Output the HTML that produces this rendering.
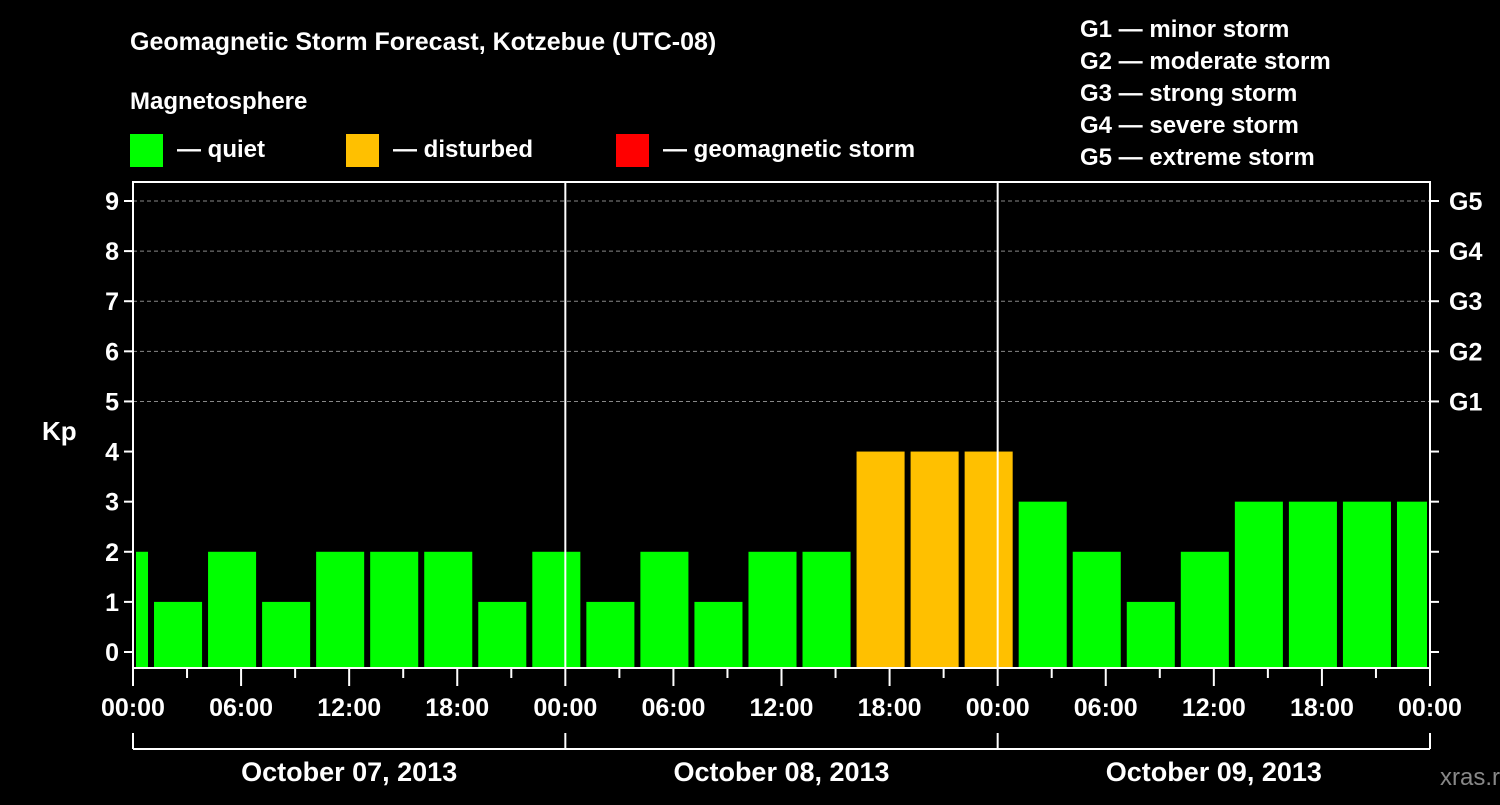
<!DOCTYPE html>
<html><head><meta charset="utf-8"><style>
body{margin:0;background:#000;width:1500px;height:800px;overflow:hidden}
svg{font-family:"Liberation Sans",sans-serif;font-weight:bold}
</style></head><body>
<svg id="c" width="1500" height="800">
<text x="130" y="50" fill="#fff" font-size="25">Geomagnetic Storm Forecast, Kotzebue (UTC-08)</text>
<text x="130" y="109" fill="#fff" font-size="24">Magnetosphere</text>
<g><rect x="130" y="134" width="33" height="33" fill="#00ff00"/><text x="177" y="157" fill="#fff" font-size="24">— quiet</text></g>
<g><rect x="346" y="134" width="33" height="33" fill="#ffc000"/><text x="393" y="157" fill="#fff" font-size="24">— disturbed</text></g>
<g><rect x="616" y="134" width="33" height="33" fill="#ff0000"/><text x="663" y="157" fill="#fff" font-size="24">— geomagnetic storm</text></g>
<g fill="#fff" font-size="24">
<text x="1080" y="37">G1 — minor storm</text><text x="1080" y="69">G2 — moderate storm</text><text x="1080" y="101">G3 — strong storm</text><text x="1080" y="133">G4 — severe storm</text><text x="1080" y="165">G5 — extreme storm</text></g>
<text x="42" y="440" fill="#fff" font-size="26">Kp</text>
<text x="1440" y="785" fill="#888" font-size="24" font-weight="normal">xras.ru</text>
<g id="plot"></g>
</svg>
<script>
const kpValues=[2,1,2,1,2,2,2,1,2,1,2,1,2,2,4,4,4,3,2,1,2,3,3,3,3];
const periodStartHour=-2;
const yTicks=[0,1,2,3,4,5,6,7,8,9];
const gLabels=["G1","G2","G3","G4","G5"];
const xLabels=["00:00","06:00","12:00","18:00","00:00","06:00","12:00","18:00","00:00","06:00","12:00","18:00","00:00"];
const dayLabels=["October 07, 2013","October 08, 2013","October 09, 2013"];
const L=133,R=1430,T=182,B=668,Y0=652,Y9=201,HOURS=72;
const x=h=>L+(R-L)*h/HOURS;
const y=v=>Y0+(Y9-Y0)*v/9;
const NS="http://www.w3.org/2000/svg";
const P=document.getElementById('plot');
function mk(t,a,p){const e=document.createElementNS(NS,t);for(const k in a)e.setAttribute(k,a[k]);(p||P).appendChild(e);return e;}
// grid
for(let v=5;v<=9;v++){const e=mk('line',{x1:L,x2:R,y1:y(v),y2:y(v),stroke:'#888','stroke-dasharray':'4,3'});

}
// bars
kpValues.forEach((v,i)=>{
 const h0=periodStartHour+3*i,h1=h0+3;
 let x0=Math.max(x(h0)+3,L+3),x1=Math.min(x(h1)-3,R-3);
 const col=v>=5?'#ff0000':v>=4?'#ffc000':'#00ff00';
 const r=mk('rect',{x:x0,y:y(v),width:x1-x0,height:B-y(v),fill:col});
 
 
});
// day dividers
[24,48].forEach(h=>{const e=mk('line',{x1:x(h),x2:x(h),y1:T,y2:B,stroke:'#fff','stroke-width':2});

});
// frame
const f=mk('rect',{x:L,y:T,width:R-L,height:B-T,fill:'none',stroke:'#fff','stroke-width':2});


// y ticks
yTicks.forEach(v=>{
 mk('line',{x1:L-9,x2:L,y1:y(v),y2:y(v),stroke:'#fff','stroke-width':2});
 mk('line',{x1:R,x2:R+9,y1:y(v),y2:y(v),stroke:'#fff','stroke-width':2});
 const t=mk('text',{x:L-14,y:y(v)+9,fill:'#fff','font-size':25,'text-anchor':'end'});t.textContent=v;
 
 
});
gLabels.forEach((g,i)=>{const t=mk('text',{x:1449,y:y(5+i)+9,fill:'#fff','font-size':25});t.textContent=g;
 
 });
// x ticks
for(let h=0;h<=HOURS;h+=3){mk('line',{x1:x(h),x2:x(h),y1:B,y2:h%6?678:686,stroke:'#fff','stroke-width':2});}
xLabels.forEach((s,i)=>{const t=mk('text',{x:x(i*6),y:716,fill:'#fff','font-size':25,'text-anchor':'middle'});t.textContent=s;
 
 });
// day bracket
mk('line',{x1:L,x2:R,y1:749,y2:749,stroke:'#fff','stroke-width':2});
[0,24,48,72].forEach(h=>mk('line',{x1:x(h),x2:x(h),y1:733,y2:749,stroke:'#fff','stroke-width':2}));
dayLabels.forEach((s,i)=>{const t=mk('text',{x:x(i*24+12),y:781,fill:'#fff','font-size':27,'text-anchor':'middle'});t.textContent=s;
 
 });
</script>
</body></html>
